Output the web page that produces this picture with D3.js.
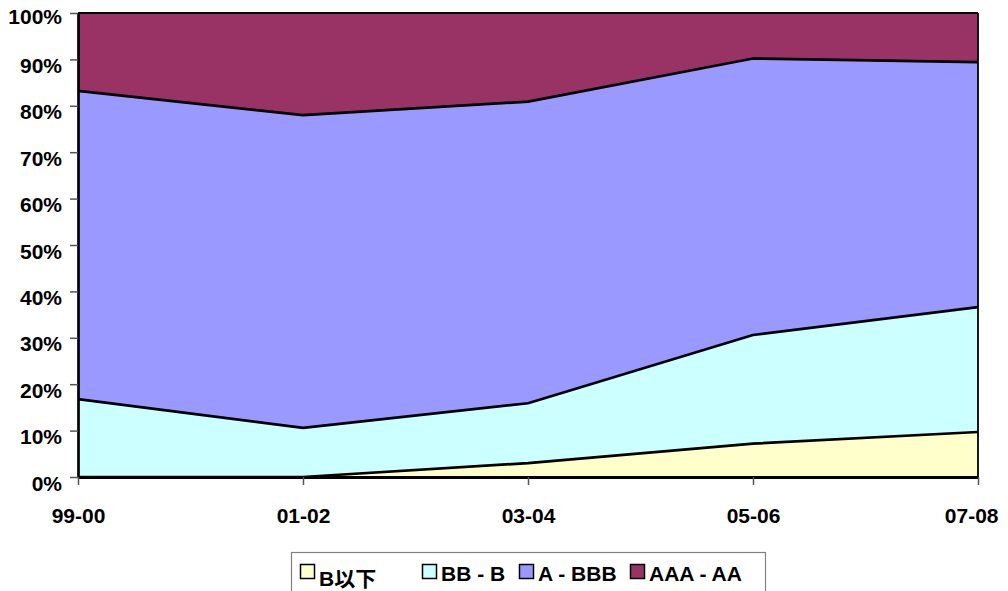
<!DOCTYPE html>
<html><head><meta charset="utf-8">
<script src="https://cdn.jsdelivr.net/npm/d3@7"></script>
<style>
html,body{margin:0;padding:0;background:#fff;}
svg{display:block;}
text{font-family:"Liberation Sans",Arial,sans-serif;font-weight:bold;fill:#000;}
</style></head>
<body>
<svg id="c" width="1008" height="591"></svg>
<script>
const categories = ["99-00","01-02","03-04","05-06","07-08"];
const seriesNames = ["B以下","BB - B","A - BBB","AAA - AA"];
const bBelow = [0, 0, 3.0, 7.2, 9.7];
const bbB    = [16.8, 10.6, 12.9, 23.4, 26.9];
const aBBB   = [66.4, 67.4, 65.0, 59.6, 52.8];
const aaaAA  = [16.8, 22.0, 19.1, 9.8, 10.6];
const yTicks = [0,10,20,30,40,50,60,70,80,90,100];
const colors = ["#FFFFCC","#CCFFFF","#9999FF","#993366"];

const seriesVals = [bBelow, bbB, aBBB, aaaAA];
const rows = categories.map((c,i)=>{
  const r = {cat:c};
  seriesNames.forEach((s,k)=>r[s]=seriesVals[k][i]);
  return r;
});

const svg = d3.select("#c");
const L=78, R=978, T=13, B=477;
const x = d3.scalePoint().domain(categories).range([L,R]);
const y = d3.scaleLinear().domain([0,100]).range([B,T]);

const stack = d3.stack().keys(seriesNames);
const layers = stack(rows);

const area = d3.area().x(d=>x(d.data.cat)).y0(d=>y(d[0])).y1(d=>y(d[1]));
const line = d3.line().x(d=>x(d.data.cat)).y(d=>y(d[1]));

svg.append("g").selectAll("path").data(layers).join("path")
  .attr("d",area).attr("fill",(d,i)=>colors[i]).attr("stroke","none");

svg.append("g").selectAll("path").data(layers.slice(0,3)).join("path")
  .attr("d",line).attr("fill","none").attr("stroke","#000").attr("stroke-width",2.7)
  .attr("stroke-linejoin","round");

// plot border top/right
svg.append("line").attr("x1",L).attr("x2",R).attr("y1",T).attr("y2",T).attr("stroke","#000").attr("stroke-width",1.8);
svg.append("line").attr("x1",R).attr("x2",R).attr("y1",T).attr("y2",B).attr("stroke","#000").attr("stroke-width",1.8);

// Y axis
const yAxis = d3.axisLeft(y).tickValues(yTicks).tickSize(8).tickSizeOuter(0).tickFormat(d=>d+"%");
const gy = svg.append("g").attr("transform",`translate(${L},0)`).call(yAxis);
gy.select(".domain").attr("stroke","#000").attr("stroke-width",2.7);
gy.selectAll(".tick line").attr("stroke","#555").attr("stroke-width",1.5);
gy.selectAll(".tick text").attr("x",-16).attr("dy",null)
  .attr("y",d=> d===100 ? 10 : 13)
  .style("font-size","21px").style("font-family",'"Liberation Sans",Arial,sans-serif').style("font-weight","bold").attr("fill","#000");

// X axis
const xAxis = d3.axisBottom(x).tickSize(8).tickSizeOuter(0);
const gx = svg.append("g").attr("transform",`translate(0,${B})`).call(xAxis);
gx.select(".domain").attr("stroke","#000").attr("stroke-width",3);
gx.selectAll(".tick line").attr("stroke","#555").attr("stroke-width",1.5);
gx.selectAll(".tick text").attr("y",46).attr("dy",null)
  .attr("text-anchor",(d,i)=> i===categories.length-1 ? "end" : "middle")
  .attr("dx",(d,i)=> i===categories.length-1 ? 20 : 0)
  .style("font-size","21px").style("font-family",'"Liberation Sans",Arial,sans-serif').style("font-weight","bold").attr("fill","#000");

// Legend
const lg = svg.append("g");
lg.append("rect").attr("x",291.5).attr("y",552.5).attr("width",474).attr("height",60)
  .attr("fill","#fff").attr("stroke","#808080").attr("stroke-width",1.2);
const legendX = [300, 422, 519, 630];
seriesNames.forEach((s,i)=>{
  lg.append("rect").attr("x",legendX[i]+0.5).attr("y",564.5).attr("width",14).attr("height",14)
    .attr("fill",colors[i]).attr("stroke","#000").attr("stroke-width",1.5);
  lg.append("text").attr("x",legendX[i]+19).attr("y", i===0 ? 586 : 581)
    .style("font-size","21px")
    .style("font-family", i===0 ? '"Liberation Sans","Noto Sans CJK JP",sans-serif' : '"Liberation Sans",Arial,sans-serif')
    .text(s);
});
</script>
</body></html>
